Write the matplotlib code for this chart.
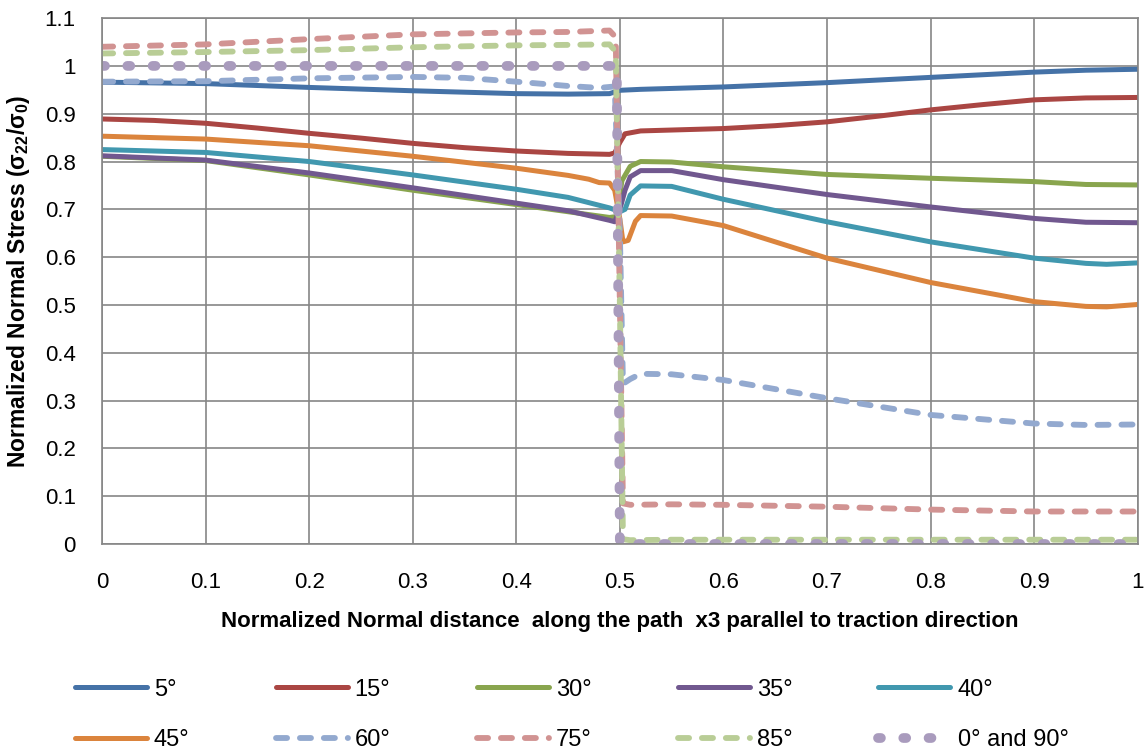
import numpy as np
import matplotlib
matplotlib.use("Agg")
import matplotlib.pyplot as plt

plt.rcParams['font.family'] = ['Liberation Sans', 'DejaVu Sans']
plt.rcParams['mathtext.fontset'] = 'custom'
plt.rcParams['mathtext.bf'] = 'Liberation Sans:bold'
plt.rcParams['mathtext.rm'] = 'Liberation Sans:bold'
plt.rcParams['mathtext.it'] = 'Liberation Sans:bold'

# ---- data ----
x5 = [0, 0.1, 0.2, 0.3, 0.4, 0.45, 0.49, 0.5, 0.52, 0.6, 0.7, 0.8, 0.9, 0.95, 1.0]
y5 = [0.966, 0.963, 0.955, 0.948, 0.942, 0.941, 0.942, 0.949, 0.951, 0.956, 0.965, 0.976, 0.987, 0.991, 0.993]

x15 = [0, 0.05, 0.1, 0.15, 0.2, 0.25, 0.3, 0.35, 0.4, 0.45, 0.49, 0.495, 0.5, 0.505, 0.52,
       0.6, 0.65, 0.7, 0.75, 0.8, 0.85, 0.9, 0.95, 1.0]
y15 = [0.889, 0.886, 0.880, 0.870, 0.859, 0.849, 0.838, 0.829, 0.822, 0.817, 0.815, 0.818, 0.84, 0.858, 0.864,
       0.869, 0.875, 0.883, 0.895, 0.908, 0.919, 0.929, 0.933, 0.934]

x30 = [0, 0.1, 0.2, 0.3, 0.4, 0.45, 0.49, 0.497, 0.502, 0.51, 0.52, 0.55, 0.6, 0.7, 0.8, 0.9, 0.95, 1.0]
y30 = [0.811, 0.802, 0.772, 0.740, 0.710, 0.695, 0.683, 0.685, 0.760, 0.790, 0.800, 0.799, 0.789, 0.773, 0.765, 0.758, 0.752, 0.751]

x35 = [0, 0.1, 0.2, 0.3, 0.4, 0.45, 0.49, 0.495, 0.5, 0.505, 0.51, 0.52, 0.55, 0.6, 0.7, 0.8, 0.9, 0.95, 1.0]
y35 = [0.812, 0.803, 0.776, 0.745, 0.713, 0.697, 0.677, 0.674, 0.70, 0.74, 0.768, 0.781, 0.781, 0.762, 0.731, 0.705, 0.681, 0.673, 0.672]

x40 = [0, 0.1, 0.2, 0.3, 0.4, 0.45, 0.49, 0.495, 0.5, 0.505, 0.51, 0.52, 0.55, 0.6, 0.7, 0.8, 0.9, 0.95, 0.97, 1.0]
y40 = [0.825, 0.819, 0.800, 0.772, 0.742, 0.725, 0.703, 0.699, 0.695, 0.700, 0.730, 0.749, 0.748, 0.721, 0.674, 0.632, 0.598, 0.587, 0.585, 0.588]

x45 = [0, 0.1, 0.2, 0.3, 0.4, 0.45, 0.47, 0.48, 0.49, 0.495, 0.5, 0.503, 0.508, 0.515, 0.52,
       0.55, 0.6, 0.7, 0.8, 0.9, 0.95, 0.97, 1.0]
y45 = [0.853, 0.847, 0.833, 0.811, 0.786, 0.771, 0.763, 0.756, 0.755, 0.74, 0.68, 0.632, 0.635, 0.675, 0.687,
       0.686, 0.666, 0.598, 0.547, 0.507, 0.497, 0.496, 0.501]

x60 = [0, 0.1, 0.2, 0.3, 0.35, 0.4, 0.45, 0.48, 0.495, 0.5, 0.503, 0.51, 0.52, 0.55, 0.6, 0.7, 0.8, 0.9, 0.95, 1.0]
y60 = [0.967, 0.968, 0.974, 0.977, 0.975, 0.967, 0.958, 0.954, 0.957, 0.65, 0.335, 0.345, 0.356, 0.355, 0.343, 0.305, 0.270, 0.252, 0.249, 0.250]

x75 = [0, 0.1, 0.2, 0.3, 0.4, 0.45, 0.49, 0.496, 0.5, 0.503, 0.51, 0.55, 0.6, 0.7, 0.8, 0.9, 1.0]
y75 = [1.040, 1.045, 1.056, 1.066, 1.070, 1.071, 1.074, 1.06, 0.50, 0.085, 0.082, 0.083, 0.082, 0.078, 0.072, 0.068, 0.068]

x85 = [0, 0.1, 0.2, 0.3, 0.4, 0.45, 0.49, 0.496, 0.5, 0.503, 0.51, 0.55, 0.6, 0.7, 0.8, 0.9, 1.0]
y85 = [1.026, 1.029, 1.033, 1.039, 1.043, 1.044, 1.045, 1.03, 0.50, 0.01, 0.008, 0.009, 0.009, 0.009, 0.009, 0.009, 0.009]

x090 = [0, 0.497, 0.5, 1.0]
y090 = [1.0, 1.0, 0.0, 0.0]

labels = ['5°', '15°', '30°', '35°', '40°', '45°', '60°', '75°', '85°', '0° and 90°']
colors = ['#4572A7', '#AA4643', '#89A54E', '#71588F', '#4198AF', '#DB843D',
          '#93A9CF', '#D19392', '#B9CD96', '#A99BBD']

fig = plt.figure(figsize=(11.48, 7.54), dpi=100)
ax = fig.add_axes([0.0889, 0.2785, 0.9021, 0.6975])

series = [(x5, y5), (x15, y15), (x30, y30), (x35, y35), (x40, y40), (x45, y45),
          (x60, y60), (x75, y75), (x85, y85), (x090, y090)]
lines = []
for i, (xs, ys) in enumerate(series):
    if i < 6:
        l, = ax.plot(xs, ys, color=colors[i], lw=3.6, solid_capstyle='round', solid_joinstyle='round')
    elif i < 9:
        l, = ax.plot(xs, ys, color=colors[i], lw=4.2, dashes=(1.9, 2.2),
                     dash_capstyle='round', dash_joinstyle='round')
    else:
        l, = ax.plot(xs, ys, color=colors[i], lw=7, dashes=(0.3, 2.3),
                     dash_capstyle='round')
    lines.append(l)

ax.set_xlim(0, 1)
ax.set_ylim(0, 1.1)
ax.set_xticks(np.arange(0, 1.01, 0.1))
ax.set_yticks(np.arange(0, 1.11, 0.1))
ax.set_xticklabels(['0', '0.1', '0.2', '0.3', '0.4', '0.5', '0.6', '0.7', '0.8', '0.9', '1'])
ax.set_yticklabels(['0', '0.1', '0.2', '0.3', '0.4', '0.5', '0.6', '0.7', '0.8', '0.9', '1', '1.1'])
ax.tick_params(length=0, labelsize=16)
ax.tick_params(axis='y', pad=19)
ax.tick_params(axis='x', pad=20)
ax.grid(True, color='#868686', lw=1.2)
ax.set_axisbelow(True)
for s in ax.spines.values():
    s.set_color('#868686')
    s.set_linewidth(1.2)

ax.set_xlabel('Normalized Normal distance  along the path  x3 parallel to traction direction',
              fontsize=16, fontweight='bold', labelpad=13)
ax.set_ylabel(r'Normalized Normal Stress ($\mathbf{\sigma_{22}/\sigma_{0}}$)',
              fontsize=16.5, fontweight='bold', labelpad=9)

order = [0, 5, 1, 6, 2, 7, 3, 8, 4, 9]
fig.legend([lines[k] for k in order], [labels[k] for k in order], ncol=5,
           loc='center left', bbox_to_anchor=(0.065, 0.052), frameon=False,
           fontsize=17, handlelength=3.05, handletextpad=0.3, columnspacing=3.65,
           labelspacing=1.2, borderpad=0, borderaxespad=0)

fig.savefig('out.png', dpi=100)
